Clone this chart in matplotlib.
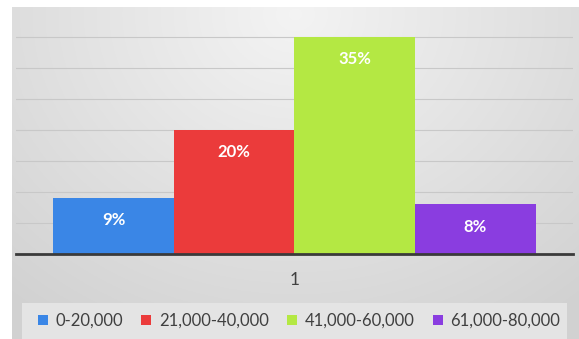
import numpy as np
import matplotlib
matplotlib.use("Agg")
import matplotlib.pyplot as plt
from matplotlib.patches import Rectangle

# ---- data ----
category = ["1"]
series_names = ["0-20,000", "21,000-40,000", "41,000-60,000", "61,000-80,000"]
values = [0.09, 0.20, 0.35, 0.08]
colors = ["#3a86e6", "#eb3b3b", "#b4e843", "#8a3de0"]

plt.rcParams['font.family'] = ['Lato', 'DejaVu Sans']

W, H = 579, 339
fig = plt.figure(figsize=(W / 100, H / 100), dpi=100)
fig.patch.set_facecolor("white")

# background gradient panel
bg = fig.add_axes([12 / W, 0, 1 - 12 / W, 1 - 7 / H], zorder=0)
ny, nx = 200, 400
yy, xx = np.mgrid[0:1:complex(0, ny), 0:1:complex(0, nx)]
d = np.sqrt(((xx - 0.5) / 0.75) ** 2 + ((yy - 0.02) / 1.1) ** 2)
g = np.clip(0.955 - 0.13 * d, 0.82, 1.0)
img = np.dstack([g, g, g])
bg.imshow(img, aspect="auto", extent=[0, 1, 0, 1], origin="upper")
bg.set_axis_off()

# legend box
fig.patches.append(Rectangle((22 / W, 0), (567 - 22) / W, (339 - 303) / H,
                             transform=fig.transFigure, facecolor="#e4e4e4",
                             edgecolor="none", zorder=1))

ax = fig.add_axes([16 / W, (H - 254) / H, (573 - 16) / W, (254 - 6) / H], zorder=2)
ax.patch.set_alpha(0)

n = len(values)
bw = 0.2165
handles = []
for i, (name, v, c) in enumerate(zip(series_names, values, colors)):
    x = 0.5 + (i - (n - 1) / 2) * bw
    b = ax.bar(x, v, width=bw, color=c, edgecolor="none", zorder=3, label=name)
    handles.append(b)
    ax.annotate(f"{round(v * 100)}%", xy=(x, v), xytext=(0, -16),
                textcoords="offset points", ha="center", va="center",
                color="white", fontsize=12, fontweight="bold", zorder=4)

ax.set_xlim(0, 1)
ax.set_ylim(0, 0.40)
ax.set_yticks(np.arange(0.05, 0.36, 0.05))
ax.set_yticklabels([])
ax.yaxis.grid(True, color="#c8c8c8", linewidth=0.8, zorder=1)
ax.tick_params(axis="y", length=0)
ax.set_xticks([0.5])
ax.set_xticklabels(category, fontsize=12.5, color="#404040")
ax.tick_params(axis="x", length=0, pad=13)
for s in ["top", "right", "left"]:
    ax.spines[s].set_visible(False)
ax.spines["bottom"].set_color("#3a3a3a")
ax.spines["bottom"].set_linewidth(2)
ax.spines["bottom"].set_zorder(5)

leg = fig.legend(handles=handles, labels=series_names, loc="center",
                 bbox_to_anchor=(299 / W, (H - 321) / H), ncol=4, frameon=False,
                 fontsize=12, handlelength=0.6, handleheight=0.6,
                 handletextpad=0.45, columnspacing=1.1, labelcolor="#404040")

fig.savefig("out.png", dpi=100)
